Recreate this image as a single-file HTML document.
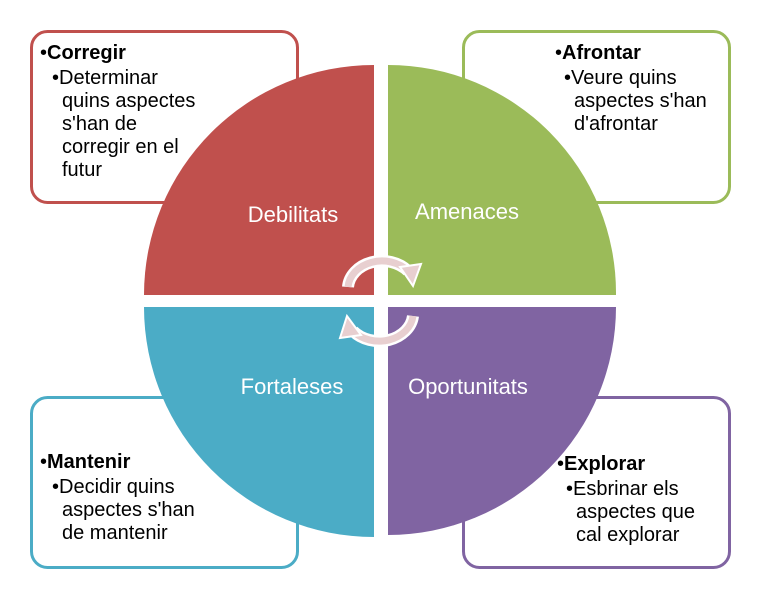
<html><body style="margin:0;background:#fff">
<svg width="762" height="606" xmlns="http://www.w3.org/2000/svg" style="font-family:'Liberation Sans',sans-serif">
<g fill="#fff" stroke-width="3">
<rect x="31.5" y="31.5" width="266" height="171" rx="16" stroke="#c0504d"/>
<rect x="463.5" y="31.5" width="266" height="171" rx="16" stroke="#9bbb59"/>
<rect x="31.5" y="397.5" width="266" height="170" rx="16" stroke="#4bacc6"/>
<rect x="463.5" y="397.5" width="266" height="170" rx="16" stroke="#8064a2"/>
</g>
<path d="M374,295 L144,295 A230,230 0 0 1 374,65 Z" fill="#c0504d"/>
<path d="M388,295 L388,65 A228,228 0 0 1 616,295 Z" fill="#9bbb59"/>
<path d="M374,307 L374,537 A230,230 0 0 1 144,307 Z" fill="#4bacc6"/>
<path d="M388,307 L616,307 A228,228 0 0 1 388,535 Z" fill="#8064a2"/>
<g fill="none" stroke-linecap="butt">
<path d="M348,287 A34,28 0 0 1 408,271" stroke="#fff" stroke-width="12"/>
<path d="M348,287 A34,28 0 0 1 408,271" stroke="#e8cfd0" stroke-width="7"/>
<path d="M413,316 A34,28 0 0 1 353,331" stroke="#fff" stroke-width="12"/>
<path d="M413,316 A34,28 0 0 1 353,331" stroke="#e8cfd0" stroke-width="7"/>
</g>
<polygon points="400,267 421,264 413,286" fill="#e8cfd0" stroke="#fff" stroke-width="2"/>
<polygon points="361,335 340,338 347,316" fill="#e8cfd0" stroke="#fff" stroke-width="2"/>
<g fill="#fff" font-size="22" text-anchor="middle">
<text x="293" y="222">Debilitats</text>
<text x="467" y="219">Amenaces</text>
<text x="292" y="394">Fortaleses</text>
<text x="468" y="394">Oportunitats</text>
</g>
<g font-size="20" fill="#000">
<text x="40" y="59">•<tspan font-weight="bold">Corregir</tspan></text>
<text x="52" y="84">•Determinar</text>
<text x="62" y="107">quins aspectes</text>
<text x="62" y="130">s'han de</text>
<text x="62" y="153">corregir en  el</text>
<text x="62" y="176">futur</text>
<text x="555" y="59">•<tspan font-weight="bold">Afrontar</tspan></text>
<text x="564" y="84">•Veure quins</text>
<text x="574" y="107">aspectes s'han</text>
<text x="574" y="130">d'afrontar</text>
<text x="40" y="468">•<tspan font-weight="bold">Mantenir</tspan></text>
<text x="52" y="493">•Decidir quins</text>
<text x="62" y="516">aspectes s'han</text>
<text x="62" y="539">de mantenir</text>
<text x="557" y="470">•<tspan font-weight="bold">Explorar</tspan></text>
<text x="566" y="495">•Esbrinar els</text>
<text x="576" y="518">aspectes que</text>
<text x="576" y="541">cal explorar</text>
</g>
</svg>
</body></html>
